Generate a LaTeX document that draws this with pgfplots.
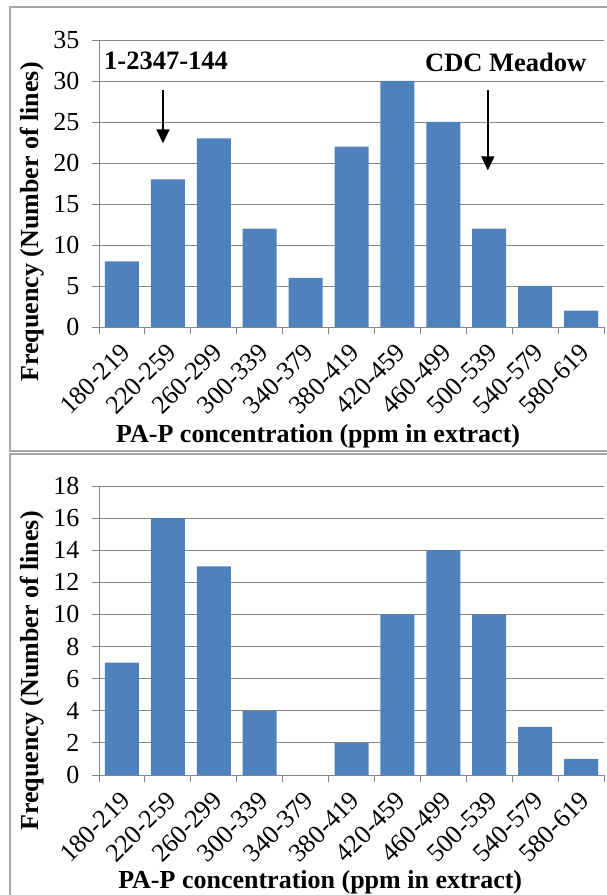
\documentclass[border=0pt]{standalone}
\usepackage{fontspec}
\setmainfont{Liberation Serif}
\usepackage{pgfplots}
\pgfplotsset{compat=1.18}
\usetikzlibrary{arrows.meta}
\definecolor{barblue}{HTML}{4F81BD}
\definecolor{gridgray}{HTML}{868686}
\definecolor{framegray}{HTML}{A6A6A6}

\pgfplotsset{
 histo/.style={
  scale only axis, width=505pt,
  ybar, bar width=34pt, bar shift=0pt,
  xmin=-0.5, xmax=10.5, ymin=0,
  axis x line*=bottom, axis y line*=left,
  axis line style={gridgray, line width=0.9pt, -},
  xtick={0,...,10},
  xticklabels={180-219,220-259,260-299,300-339,340-379,380-419,420-459,460-499,500-539,540-579,580-619},
  major x tick style={draw=none},
  minor xtick={-0.5,0.5,...,10.5},
  minor x tick style={gridgray, line width=0.9pt},
  y tick style={gridgray, line width=0.9pt},
  tick align=outside,
  major tick length=7pt, minor tick length=7pt,
  ymajorgrids, grid style={gridgray, line width=0.9pt},
  /pgf/number format/assume math mode=true,
  yticklabel style={font=\fontsize{26}{30}\selectfont, xshift=-9pt},
  xticklabel style={font=\fontsize{26}{30}\selectfont, rotate=45, anchor=east, inner sep=2pt, xshift=-5.3pt, yshift=-12.5pt},
  label style={font=\bfseries\fontsize{26}{30}\selectfont},
  ylabel={Frequency (Number of lines)},
  xlabel={PA-P concentration (ppm in extract)},
 }}

\begin{document}
\begin{tikzpicture}[x=1pt,y=1pt]
\useasboundingbox (0,0) rectangle (606,895);
\draw[framegray, line width=1.2pt] (10,444) rectangle (609,888);
\draw[framegray, line width=1.2pt] (10,-5) rectangle (609,441);

\begin{axis}[histo, height=287pt, ymax=35, ytick={0,5,...,35},
  at={(99pt,568pt)}, anchor=south west,
  xlabel style={at={(axis description cs:0.434,-0.38)}, anchor=center},
  ylabel style={at={(axis description cs:-0.133,0.366)}, anchor=center, rotate=0}]
\addplot[fill=barblue, draw=none] coordinates {
 (0,8) (1,18) (2,23) (3,12) (4,6) (5,22) (6,30) (7,25) (8,12) (9,5) (10,2)};
\node[font=\bfseries\fontsize{26.5}{30}\selectfont] at (axis cs:0.96,32.5) {1-2347-144};
\node[font=\bfseries\fontsize{26.5}{30}\selectfont] at (axis cs:8.36,32.3) {CDC Meadow};
\draw[line width=1.5pt, -{Triangle[width=13pt,length=14pt]}] (axis cs:0.894,28.9) -- (axis cs:0.894,22.4);
\draw[line width=1.5pt, -{Triangle[width=13pt,length=14pt]}] (axis cs:7.97,28.9) -- (axis cs:7.97,19.1);
\end{axis}

\begin{axis}[histo, height=289pt, ymax=18, ytick={0,2,...,18},
  at={(99pt,120pt)}, anchor=south west,
  xlabel style={at={(axis description cs:0.438,-0.37)}, anchor=center},
  ylabel style={at={(axis description cs:-0.133,0.36)}, anchor=center, rotate=0}]
\addplot[fill=barblue, draw=none] coordinates {
 (0,7) (1,16) (2,13) (3,4) (4,0) (5,2) (6,10) (7,14) (8,10) (9,3) (10,1)};
\end{axis}
\end{tikzpicture}
\end{document}
